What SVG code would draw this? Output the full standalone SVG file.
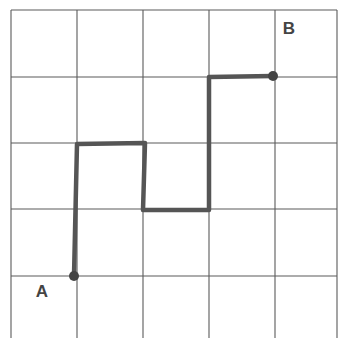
<svg xmlns="http://www.w3.org/2000/svg" width="339" height="338" viewBox="0 0 339 338">
<style>
.grid line{stroke:#5a5a5a;stroke-width:1.1}
.route{fill:none;stroke:#555;stroke-width:4.5;stroke-linejoin:round;stroke-linecap:round}
.dot{fill:#444}
.lbl{font-family:"Liberation Sans",Arial,sans-serif;font-weight:bold;font-size:17px;fill:#444;text-anchor:middle}
</style>
<rect width="339" height="338" fill="#fff"/>
<g id="grid" class="grid">
<line x1="11" y1="10" x2="11" y2="338"/>
<line x1="77" y1="10" x2="77" y2="338"/>
<line x1="143" y1="10" x2="143" y2="338"/>
<line x1="209" y1="10" x2="209" y2="338"/>
<line x1="275" y1="10" x2="275" y2="338"/>
<line x1="337" y1="10" x2="337" y2="338"/>
<line x1="11" y1="10" x2="337" y2="10"/>
<line x1="11" y1="77" x2="337" y2="77"/>
<line x1="11" y1="143" x2="337" y2="143"/>
<line x1="11" y1="209" x2="337" y2="209"/>
<line x1="11" y1="276" x2="337" y2="276"/>
</g>
<g id="connectors">
<polyline class="route" points="74,276 77,144 145,143 143,210 209,210 209,77 273,76"/>
</g>
<g id="nodeA">
<circle class="dot" cx="74" cy="276" r="5"/>
<text class="lbl" x="42" y="297">A</text>
</g>
<g id="nodeB">
<circle class="dot" cx="273" cy="76" r="5"/>
<text class="lbl" x="289" y="34">B</text>
</g>
</svg>
